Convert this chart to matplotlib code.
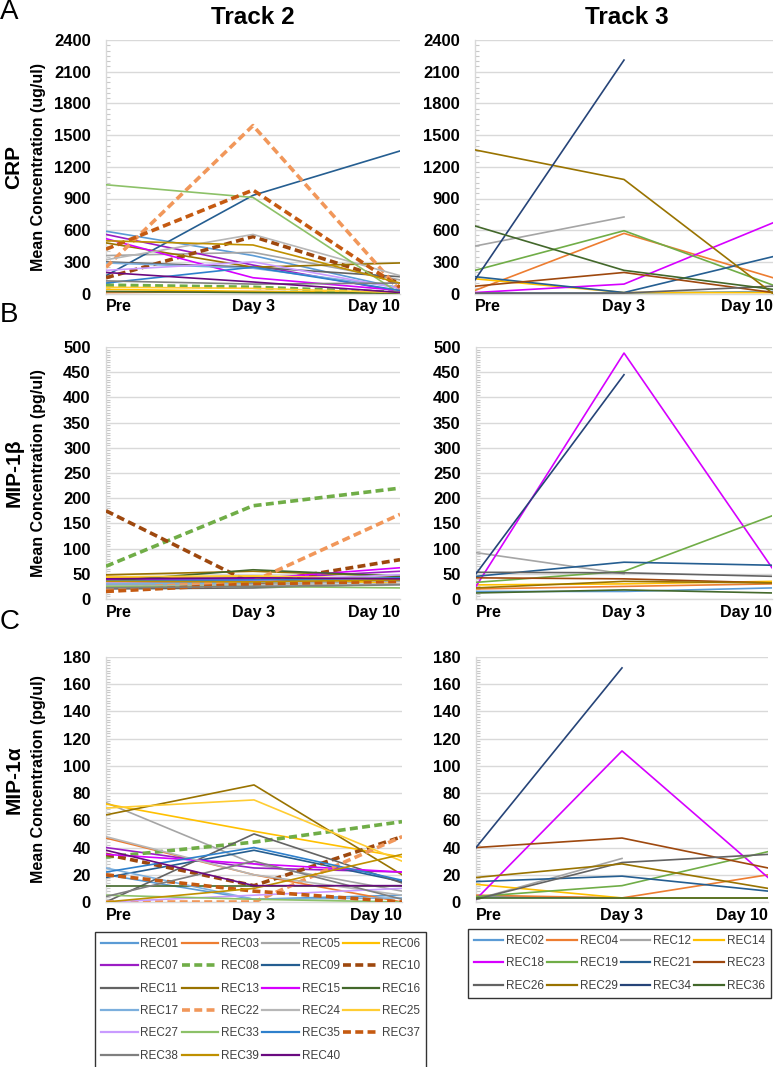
import matplotlib
matplotlib.use("Agg")
import matplotlib.pyplot as plt
import numpy as np
from matplotlib.ticker import MultipleLocator, AutoMinorLocator
from matplotlib.lines import Line2D

plt.rcParams['font.family'] = ['Liberation Sans', 'DejaVu Sans']

timepoints = ["Pre", "Day 3", "Day 10"]

track2_ids = ["REC01", "REC03", "REC05", "REC06", "REC07", "REC08", "REC09", "REC10",
              "REC11", "REC13", "REC15", "REC16", "REC17", "REC22", "REC24", "REC25",
              "REC27", "REC33", "REC35", "REC37", "REC38", "REC39", "REC40"]
track3_ids = ["REC02", "REC04", "REC12", "REC14", "REC18", "REC19", "REC21", "REC23",
              "REC26", "REC29", "REC34", "REC36"]

N = np.nan
# CRP (ug/ul)
crp_t2 = {
    "REC01": [590, 360, 50], "REC03": [10, 20, 10], "REC05": [360, 390, 130],
    "REC06": [40, 20, 10], "REC07": [560, 270, 20], "REC08": [80, 60, 10],
    "REC09": [170, 930, 1350], "REC10": [150, 540, 100], "REC11": [300, 250, 160],
    "REC13": [480, 250, 290], "REC15": [520, 150, 30], "REC16": [20, 10, 5],
    "REC17": [290, 240, 60], "REC22": [250, 1590, 30], "REC24": [320, 560, 170],
    "REC25": [60, 50, 10], "REC27": [220, 300, 50], "REC33": [1030, 910, 0],
    "REC35": [100, 250, 30], "REC37": [420, 980, 60], "REC38": [120, 90, 100],
    "REC39": [500, 460, 100], "REC40": [200, 110, 10],
}
crp_t3 = {
    "REC02": [5, 5, 20], "REC04": [30, 570, 150], "REC12": [450, 725, N],
    "REC14": [140, 10, 10], "REC18": [10, 90, 670], "REC19": [220, 595, 80],
    "REC21": [160, 10, 350], "REC23": [70, 200, 10], "REC26": [5, 5, 70],
    "REC29": [1360, 1080, 0], "REC34": [130, 2210, N], "REC36": [640, 220, 40],
}
# MIP-1beta (pg/ul)
mip1b_t2 = {
    "REC01": [30, 35, 40], "REC03": [45, 38, 35], "REC05": [28, 30, 35],
    "REC06": [42, 45, 30], "REC07": [38, 40, 55], "REC08": [65, 185, 220],
    "REC09": [32, 36, 38], "REC10": [175, 30, 78], "REC11": [20, 22, 30],
    "REC13": [48, 55, 45], "REC15": [40, 40, 62], "REC16": [35, 58, 45],
    "REC17": [30, 32, 42], "REC22": [20, 35, 168], "REC24": [25, 28, 30],
    "REC25": [44, 46, 40], "REC27": [33, 36, 48], "REC33": [25, 25, 22],
    "REC35": [36, 38, 42], "REC37": [15, 30, 35], "REC38": [22, 25, 28],
    "REC39": [35, 34, 38], "REC40": [40, 42, 40],
}
mip1b_t3 = {
    "REC02": [15, 15, 22], "REC04": [20, 25, 30], "REC12": [92, 50, N],
    "REC14": [28, 30, 35], "REC18": [25, 488, 62], "REC19": [33, 55, 165],
    "REC21": [45, 73, 67], "REC23": [42, 40, 32], "REC26": [53, 52, 45],
    "REC29": [22, 35, 32], "REC34": [50, 445, N], "REC36": [12, 18, 12],
}
# MIP-1alpha (pg/ul)
mip1a_t2 = {
    "REC01": [20, 2, 5], "REC03": [47, 20, 0], "REC05": [73, 28, 8],
    "REC06": [72, 52, 33], "REC07": [40, 25, 22], "REC08": [33, 44, 59],
    "REC09": [18, 38, 15], "REC10": [35, 12, 48], "REC11": [0, 50, 14],
    "REC13": [64, 86, 20], "REC15": [35, 28, 22], "REC16": [12, 12, 12],
    "REC17": [25, 2, 3], "REC22": [0, 0, 48], "REC24": [48, 20, 5],
    "REC25": [69, 75, 30], "REC27": [0, 5, 10], "REC33": [5, 2, 0],
    "REC35": [22, 40, 16], "REC37": [20, 8, 0], "REC38": [4, 30, 2],
    "REC39": [0, 10, 35], "REC40": [38, 12, 12],
}
mip1a_t3 = {
    "REC02": [4, 3, 3], "REC04": [5, 3, 20], "REC12": [2, 32, N],
    "REC14": [13, 3, 3], "REC18": [2, 111, 18], "REC19": [4, 12, 37],
    "REC21": [15, 19, 8], "REC23": [40, 47, 25], "REC26": [2, 29, 35],
    "REC29": [18, 28, 10], "REC34": [40, 172, N], "REC36": [3, 3, 3],
}

colors = {
    "REC01": "#5B9BD5", "REC03": "#ED7D31", "REC05": "#A5A5A5", "REC06": "#FFC000",
    "REC07": "#9B1DC4", "REC08": "#70AD47", "REC09": "#255E91", "REC10": "#9E480E",
    "REC11": "#636363", "REC13": "#997300", "REC15": "#D600FF", "REC16": "#43682B",
    "REC17": "#7CAFDD", "REC22": "#F1975A", "REC24": "#B7B7B7", "REC25": "#FFCD33",
    "REC27": "#C99BFF", "REC33": "#8CC168", "REC35": "#2E80CC", "REC37": "#C55A11",
    "REC38": "#7F7F7F", "REC39": "#BF9000", "REC40": "#6A0A80",
    "REC02": "#5B9BD5", "REC04": "#ED7D31", "REC12": "#A5A5A5", "REC14": "#FFC000",
    "REC18": "#D600FF", "REC19": "#70AD47", "REC21": "#255E91", "REC23": "#9E480E",
    "REC26": "#636363", "REC29": "#997300", "REC34": "#264478", "REC36": "#43682B",
}
dashed = ["REC08", "REC10", "REC22", "REC37"]

W, H = 783, 1067
fig = plt.figure(figsize=(W / 100, H / 100), dpi=100)

def rect(x0, x1, ytop, ybot):
    return [x0 / W, 1 - ybot / H, (x1 - x0) / W, (ybot - ytop) / H]

panels = [
    (crp_t2, track2_ids, rect(106, 400, 40, 293.6), 2400, 300, 6),
    (crp_t3, track3_ids, rect(475, 773, 40, 293.6), 2400, 300, 6),
    (mip1b_t2, track2_ids, rect(106, 400, 347, 599), 500, 50, 10),
    (mip1b_t3, track3_ids, rect(476, 772, 347, 599), 500, 50, 10),
    (mip1a_t2, track2_ids, rect(106, 402, 657, 902), 180, 20, 10),
    (mip1a_t3, track3_ids, rect(476, 768, 657, 902), 180, 20, 10),
]

DASH = (0, (2.2, 1.2))
xs = np.arange(len(timepoints))
for data, ids, r, ymax, step, nminor in panels:
    ax = fig.add_axes(r)
    for rid in ids:
        vals = np.array(data[rid], dtype=float)
        if rid in dashed:
            ax.plot(xs, vals, color=colors[rid], lw=2.6, ls=DASH, solid_capstyle='butt', zorder=3)
        else:
            ax.plot(xs, vals, color=colors[rid], lw=1.2, zorder=3)
    ax.set_xlim(0, 2)
    ax.set_ylim(0, ymax)
    ax.yaxis.set_major_locator(MultipleLocator(step))
    ax.yaxis.set_minor_locator(AutoMinorLocator(nminor))
    ax.grid(axis='y', which='major', color='#D9D9D9', lw=1.0, zorder=0)
    ax.set_axisbelow(True)
    for s in ['top', 'right']:
        ax.spines[s].set_visible(False)
    for s in ['left', 'bottom']:
        ax.spines[s].set_color('#D9D9D9')
        ax.spines[s].set_linewidth(1.0)
    ax.tick_params(axis='y', which='major', length=0, pad=11, labelsize=12)
    ax.tick_params(axis='y', which='minor', length=3, direction='in', color='#C8C8C8', width=0.8)
    ax.tick_params(axis='x', length=0, pad=4, labelsize=11.5)
    ax.set_xticks(xs)
    ax.set_xticklabels(timepoints, fontweight='bold')
    tl = ax.get_xticklabels()
    tl[0].set_ha('left')
    tl[2].set_ha('right')
    for lab in ax.get_yticklabels():
        lab.set_fontweight('bold')

# Titles
fig.text(253 / W, 1 - 17 / H, "Track 2", ha='center', va='center', fontsize=17.5, fontweight='bold')
fig.text(627 / W, 1 - 17 / H, "Track 3", ha='center', va='center', fontsize=17.5, fontweight='bold')
# Panel letters
for letter, y in [("A", 12), ("B", 315), ("C", 622)]:
    fig.text(0 / W, 1 - y / H, letter, ha='left', va='center', fontsize=20)

# Y labels
ylabels = [("CRP", "Mean Concentration (ug/ul)", (40 + 293.6) / 2),
           ("MIP-1β", "Mean Concentration (pg/ul)", (347 + 599) / 2),
           ("MIP-1α", "Mean Concentration (pg/ul)", (657 + 902) / 2)]
for big, small, yc in ylabels:
    fig.text(14 / W, 1 - yc / H, big, rotation=90, ha='center', va='center', fontsize=15, fontweight='bold')
    fig.text(39 / W, 1 - yc / H, small, rotation=90, ha='center', va='center', fontsize=11.5, fontweight='bold')

def legend_items(ids, ncol=4):
    order = [i for c in range(ncol) for i in range(c, len(ids), ncol)]
    hs, ls = [], []
    for i in order:
        rid = ids[i]
        if rid in dashed:
            hs.append(Line2D([], [], color=colors[rid], lw=2.6, ls=DASH))
        else:
            hs.append(Line2D([], [], color=colors[rid], lw=1.6))
        ls.append(rid)
    return hs, ls

leg_kw = dict(ncol=4, fontsize=8.5, frameon=True, fancybox=False, edgecolor='black',
              handletextpad=0.25, columnspacing=0.25, labelspacing=0.88,
              borderpad=0.5, borderaxespad=0, labelcolor='#404040')
h1, l1 = legend_items(track2_ids)
leg1 = fig.legend(h1, l1, loc='upper left', bbox_to_anchor=(95 / W, 1 - 932 / H),
                  handlelength=3.1, **leg_kw)
leg1.get_frame().set_linewidth(1.0)
h2, l2 = legend_items(track3_ids)
leg2 = fig.legend(h2, l2, loc='upper left', bbox_to_anchor=(468 / W, 1 - 929 / H),
                  handlelength=2.5, **leg_kw)
leg2.get_frame().set_linewidth(1.0)

fig.savefig("out.png", dpi=100)
